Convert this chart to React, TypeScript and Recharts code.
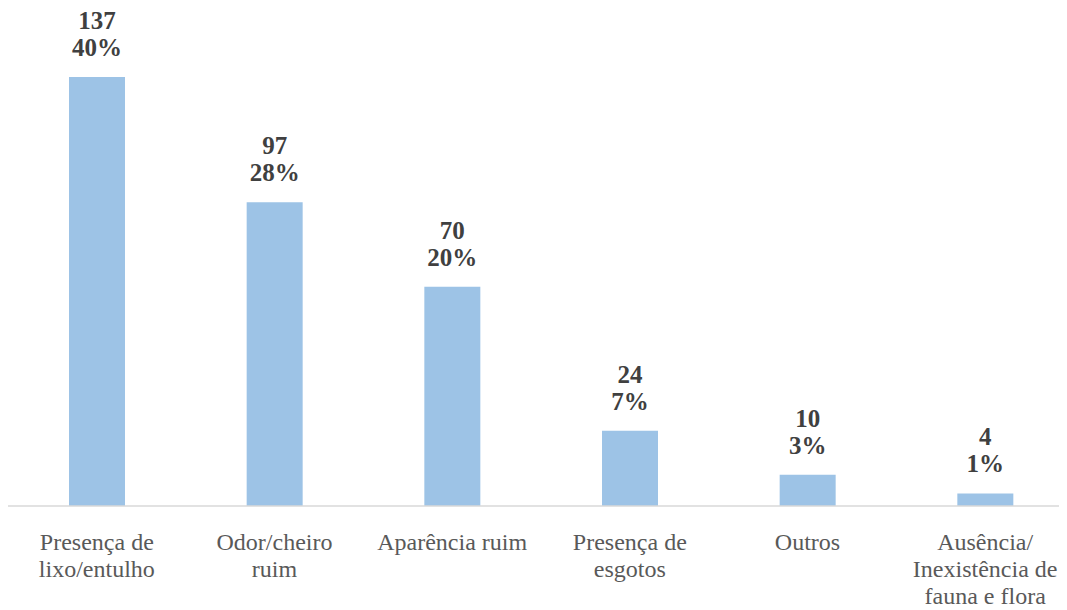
import { Bar, BarChart, LabelList, XAxis, YAxis } from "recharts";

const categories = [
  ["Presença de", "lixo/entulho"],
  ["Odor/cheiro", "ruim"],
  ["Aparência ruim"],
  ["Presença de", "esgotos"],
  ["Outros"],
  ["Ausência/", "Inexistência de", "fauna e flora"],
];
const counts = [137, 97, 70, 24, 10, 4];
const percents = ["40%", "28%", "20%", "7%", "3%", "1%"];

const data = categories.map((lines, i) => ({
  name: lines.join(" "),
  lines,
  value: counts[i],
  pct: percents[i],
}));

const FONT = "Liberation Serif";

const CategoryTick = ({ x, y, index }: any) => {
  const lines = categories[index] || [];
  return (
    <g>
      {lines.map((l, i) => (
        <text
          key={i}
          x={x}
          y={y + 36 + i * 27}
          textAnchor="middle"
          fill="#595959"
          style={{ fontFamily: FONT, fontSize: 24 }}
        >
          {l}
        </text>
      ))}
    </g>
  );
};

const ValueLabel = ({ x, y, width, index }: any) => {
  const cx = x + width / 2;
  const st = { fontFamily: FONT, fontSize: 25, fontWeight: 700 };
  return (
    <g fill="#404040" textAnchor="middle">
      <text x={cx} y={y - 48} style={st}>{counts[index]}</text>
      <text x={cx} y={y - 21} style={st}>{percents[index]}</text>
    </g>
  );
};

export default function App() {
  return (
    <BarChart
      width={1059}
      height={600}
      data={data}
      margin={{ top: 69, right: -7, left: 0, bottom: 0 }}
    >
      <XAxis
        dataKey="name"
        axisLine={{ stroke: "#d9d9d9", strokeWidth: 1.5 }}
        tickLine={false}
        interval={0}
        height={102}
        tick={<CategoryTick />}
      />
      <YAxis hide domain={[0, 137]} />
      <Bar dataKey="value" fill="#9dc3e6" barSize={56} isAnimationActive={false}>
        <LabelList dataKey="value" content={<ValueLabel />} />
      </Bar>
    </BarChart>
  );
}
